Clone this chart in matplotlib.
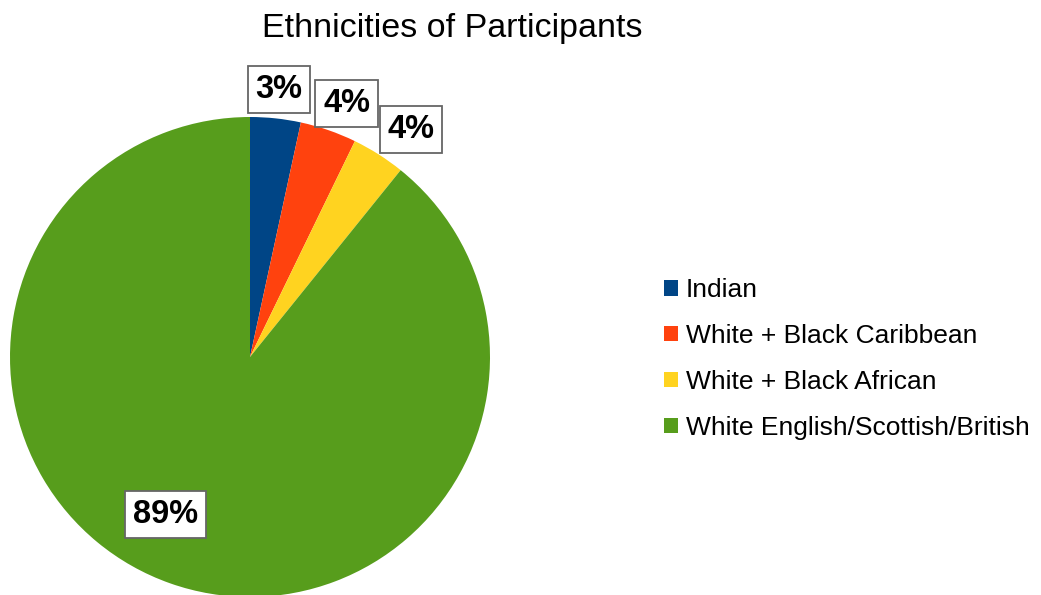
import numpy as np
import matplotlib
matplotlib.use("Agg")
import matplotlib.pyplot as plt
from matplotlib.patches import Patch

plt.rcParams['font.family'] = ['Liberation Sans', 'DejaVu Sans']

categories = ["Indian", "White + Black Caribbean", "White + Black African",
              "White English/Scottish/British"]
values = [3.4, 3.8, 3.6, 89.2]
pct_labels = ["3%", "4%", "4%", "89%"]
colors = ["#004586", "#ff420e", "#ffd320", "#579d1c"]

W, H = 1041, 595
fig = plt.figure(figsize=(W / 100, H / 100), dpi=100)

# pie axes: centre (250, 357) px, radius 240 px
cx, cy, R = 250, 357, 240
ax = fig.add_axes([(cx - R) / W, (H - cy - R) / H, 2 * R / W, 2 * R / H])
wedges, _ = ax.pie(values, colors=colors, startangle=90, counterclock=False,
                   radius=1.0, wedgeprops=dict(linewidth=0))
ax.set_xlim(-1, 1)
ax.set_ylim(-1, 1)
ax.set_aspect('equal')
ax.axis('off')

# label placement (radius factor, angle in degrees)
label_pos = [(1.12, 83.8), (1.13, 69.1), (1.16, 54.7), (0.745, -118.3)]
for txt, (r, th) in zip(pct_labels, label_pos):
    t = np.deg2rad(th)
    ax.text(r * np.cos(t), r * np.sin(t), txt, ha='center', va='center',
            fontsize=23.5, fontweight='bold', color='black', clip_on=False,
            bbox=dict(boxstyle='square,pad=0.24', facecolor='white',
                      edgecolor='#666666', linewidth=1.3))

fig.text(452 / W, 1 - 28 / H, "Ethnicities of Participants", ha='center',
         va='center', fontsize=24.5, color='black')

handles = [Patch(facecolor=c, edgecolor='none') for c in colors]
fig.legend(handles, categories, loc='center left',
           bbox_to_anchor=(664 / W, 1 - 359 / H), frameon=False,
           fontsize=19, borderpad=0, borderaxespad=0, handlelength=0.53,
           handleheight=0.53, handletextpad=0.3, labelspacing=0.83)

fig.savefig("out.png", dpi=100)
